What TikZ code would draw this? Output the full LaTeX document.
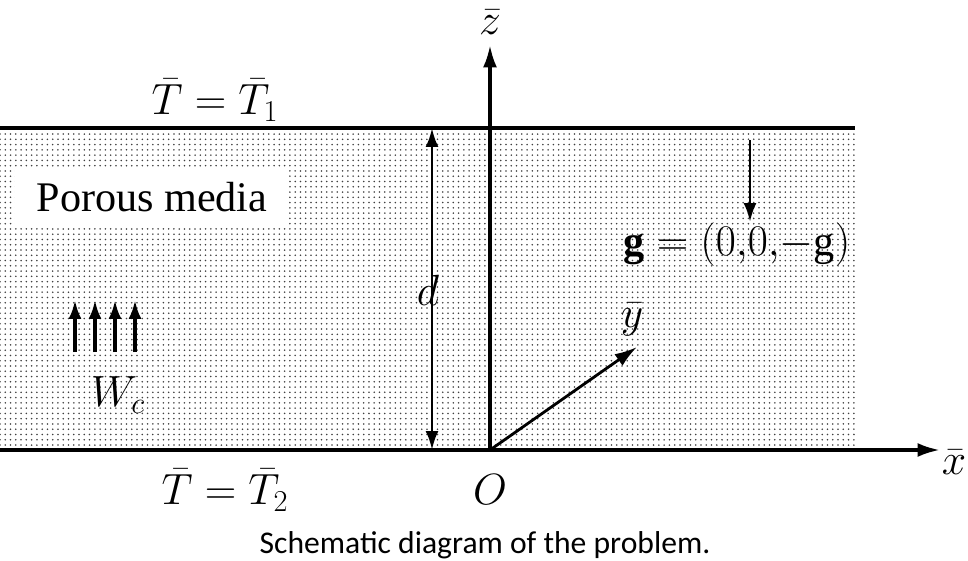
\documentclass[tikz,border=0pt]{standalone}
\usepackage{amsmath}
\usepackage{fontspec}
\setmainfont{Liberation Serif}
\newfontfamily\capfont{Carlito}
\usetikzlibrary{arrows.meta}
\usetikzlibrary{patterns}

\begin{document}
\begin{tikzpicture}[x=0.02cm, y=-0.02cm]
		\tikzset{axis/.style={line width=2pt, -{Latex[length=4.5mm, width=2.8mm]}}}
		\tikzset{wall/.style={line width=2pt}}
		\tikzset{lbl/.style={font=\fontsize{24}{28}\selectfont}}
		\useasboundingbox (0,0) rectangle (968,561);
		%medium
		\fill[pattern=dots, pattern color=black!75] (0,128) rectangle (855,450);
		\fill[white] (15,168) rectangle (288,226);
		\node[font=\fontsize{24}{28}\selectfont] (pm) at (152,197) {Porous media};
		%points
		\coordinate (o) at (490,450);
		\coordinate (tl) at (0,128);
		\coordinate (tr) at (855,128);
		\coordinate (bl) at (0,450);
		\coordinate (xe) at (940,450);
		\coordinate (ze) at (490,45);
		\coordinate (ye) at (637,347);
		\coordinate (dt) at (432,128);
		\coordinate (db) at (432,450);
		\coordinate (gt) at (750,140);
		\coordinate (gb) at (750,222);
		%walls and axes
		\draw[wall] (tl) -- (tr);
		\draw[axis] (bl) -- (xe);
		\draw[axis] (o) -- (ze);
		\draw[axis, line width=1.6pt] (o) -- (ye);
		\draw[line width=1.6pt, {Latex[length=3.8mm, width=2.6mm]}-{Latex[length=3.8mm, width=2.6mm]}] (dt) -- (db);
		\draw[line width=1.6pt, -{Latex[length=3.8mm, width=2.6mm]}] (gt) -- (gb);
		%throughflow
		\foreach \i in {75,95,115,135}
			\draw[line width=2pt, -{Latex[length=3.8mm, width=2.6mm]}] (\i,352) -- (\i,300);
		%labels
		\node[lbl] (zl) at (490,22) {$\bar{z}$};
		\node[lbl] (xn) at (954,462) {$\bar{x}$};
		\node[lbl] (yl) at (632,320) {$\bar{y}$};
		\node[lbl] (t1) at (215,100) {$\bar{T}=\bar{T}_1$};
		\node[lbl] (t2) at (225,490) {$\bar{T}=\bar{T}_2$};
		\node[lbl] (ol) at (490,490) {$O$};
		\node[font=\fontsize{34}{38}\selectfont] (dl) at (428,290) {$d$};
		\node[lbl] (gl) at (737,245) {$\mathbf{g}=(0{,}0{,}{-}\mathrm{g})$};
		\node[lbl] (wl) at (118,395) {$W_c$};
		\node[font=\capfont\fontsize{18}{21}\selectfont] (cap) at (485,545) {Schematic diagram of the problem.};
		\end{tikzpicture}
\end{document}
